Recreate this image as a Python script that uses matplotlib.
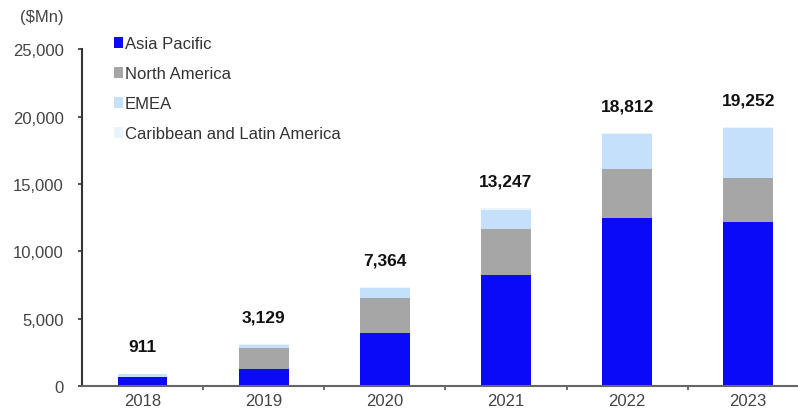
import matplotlib
matplotlib.use('Agg')
import matplotlib.pyplot as plt
import numpy as np
from matplotlib.patches import Patch

plt.rcParams['font.family'] = ['Liberation Sans', 'DejaVu Sans']

years = ['2018', '2019', '2020', '2021', '2022', '2023']
asia_pacific = [700, 1300, 3950, 8250, 12450, 12200]
north_america = [20, 1550, 2600, 3400, 3700, 3230]
emea = [170, 250, 750, 1400, 2550, 3700]
carib_latam = [21, 29, 64, 197, 112, 122]
totals = [911, 3129, 7364, 13247, 18812, 19252]

series_names = ['Asia Pacific', 'North America', 'EMEA', 'Caribbean and Latin America']
series_colors = ['#0A0AF8', '#A6A6A6', '#C4E0FA', '#EAF4FD']

fig = plt.figure(figsize=(7.98, 4.14), dpi=100)
ax = fig.add_axes([0.1028, 0.0645, 0.897, 0.814])

x = np.arange(len(years))
bottom = np.zeros(len(years))
for vals, col in zip([asia_pacific, north_america, emea, carib_latam], series_colors):
    ax.bar(x, vals, width=0.41, bottom=bottom, color=col, edgecolor='none', zorder=2)
    bottom += np.array(vals)

# total labels above the stacks
for xi, top, tot in zip(x, bottom, totals):
    ax.annotate(f'{tot:,}', (xi, top), xytext=(0, 19.5), textcoords='offset points',
                ha='center', va='center', fontsize=12.5, fontweight='bold', color='#111111')

ax.set_xlim(-0.5, 5.41)
ax.set_ylim(0, 25000)
ax.set_yticks(range(0, 25001, 5000))
ax.set_yticklabels([f'{v:,}' for v in range(0, 25001, 5000)])
ax.set_xticks(x)
ax.set_xticklabels(years)
ax.set_xticks(x[:-1] + 0.5, minor=True)

ax.tick_params(axis='x', which='major', length=0, pad=5, labelsize=12, labelcolor='#444444')
ax.tick_params(axis='x', which='minor', length=3, width=1.2, direction='out', color='#555555')
ax.tick_params(axis='y', length=3, width=1.2, direction='out', pad=10, labelsize=12,
               labelcolor='#444444', color='#333333')

for side in ['top', 'right']:
    ax.spines[side].set_visible(False)
ax.spines['left'].set_color('#333333')
ax.spines['left'].set_linewidth(1.5)
ax.spines['bottom'].set_color('#666666')
ax.spines['bottom'].set_linewidth(1.5)
ax.spines['bottom'].set_zorder(3)

fig.text(0.025, 0.957, '($Mn)', fontsize=12, color='#444444', ha='left', va='center')

handles = [Patch(facecolor=c, edgecolor='none') for c in series_colors]
leg = ax.legend(handles, series_names, loc='upper left', bbox_to_anchor=(0.03, 1.068),
                frameon=False, fontsize=12, handlelength=0.55, handleheight=0.55,
                handletextpad=0.12, labelspacing=0.9, borderaxespad=0.2)
for t in leg.get_texts():
    t.set_color('#333333')

fig.savefig('out.png', dpi=100)
